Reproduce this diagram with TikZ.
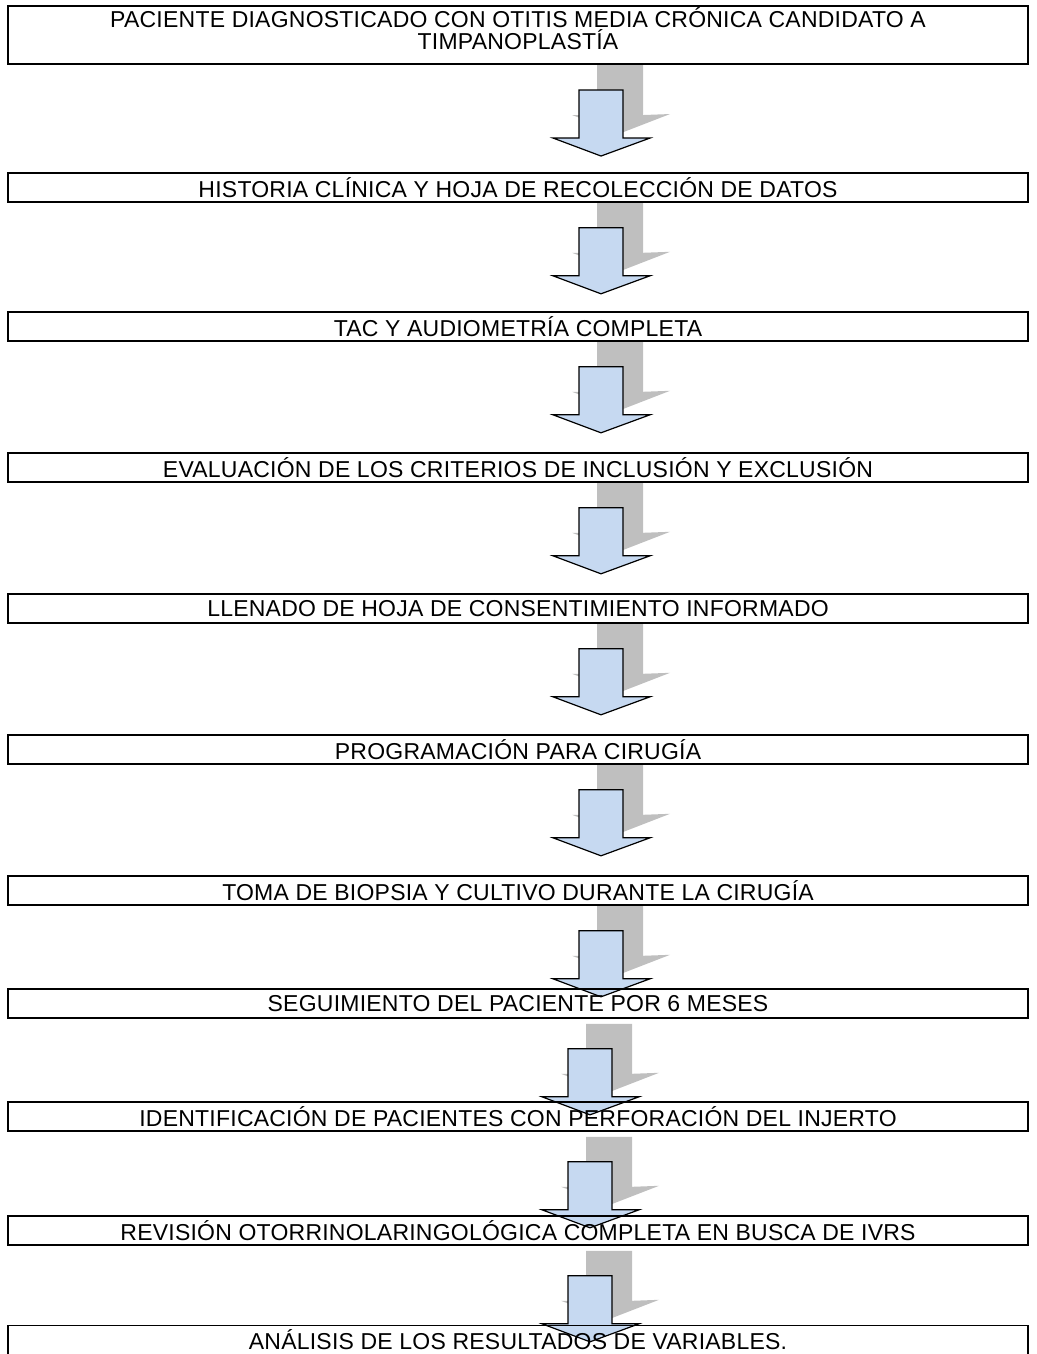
\documentclass[tikz,border=0pt]{standalone}
\usepackage{fontspec}
\setmainfont{Liberation Sans}[LetterSpace=1]
\usetikzlibrary{positioning,calc,backgrounds}
\definecolor{arrowblue}{HTML}{C6D9F1}
\definecolor{shadowgray}{HTML}{BFBFBF}

\begin{document}
\begin{tikzpicture}[x=1pt, y=-1pt,
    every node/.style={font=\fontsize{23}{22}\selectfont},
    stepbox/.style={draw, line width=1.6pt, minimum width=1020pt, minimum height=29pt, inner sep=0pt, align=center},
    blockarrow/.style={draw, fill=arrowblue, line width=1.2pt, line join=miter}]
        \useasboundingbox (0,0) rectangle (1036,1354);
        % steps
        \node[stepbox, anchor=north, text depth=12.5pt, inner ysep=2pt] (b1) at (518,5) {PACIENTE DIAGNOSTICADO CON OTITIS MEDIA CRÓNICA CANDIDATO A\\TIMPANOPLASTÍA};
        \node[stepbox] (b2) at (518,187.5) {HISTORIA CLÍNICA Y HOJA DE RECOLECCIÓN DE DATOS};
        \node[stepbox] (b3) at (518,326.5) {TAC Y AUDIOMETRÍA COMPLETA};
        \node[stepbox] (b4) at (518,467.5) {EVALUACIÓN DE LOS CRITERIOS DE INCLUSIÓN Y EXCLUSIÓN};
        \node[stepbox] (b5) at (518,608.5) {LLENADO DE HOJA DE CONSENTIMIENTO INFORMADO};
        \node[stepbox] (b6) at (518,749.5) {PROGRAMACIÓN PARA CIRUGÍA};
        \node[stepbox] (b7) at (518,890.5) {TOMA DE BIOPSIA Y CULTIVO DURANTE LA CIRUGÍA};
        \node[stepbox] (b8) at (518,1003.5) {SEGUIMIENTO DEL PACIENTE POR 6 MESES};
        \node[stepbox] (b9) at (518,1116.5) {IDENTIFICACIÓN DE PACIENTES CON PERFORACIÓN DEL INJERTO};
        \node[stepbox] (b10) at (518,1230.5) {REVISIÓN OTORRINOLARINGOLÓGICA COMPLETA EN BUSCA DE IVRS};
        \node[stepbox] (b11) at (518,1340) {ANÁLISIS DE LOS RESULTADOS DE VARIABLES.};
        % block arrows with shadow
        \begin{scope}[on background layer]
          \foreach \i/\dx/\dy in {1/83/0,2/83/0,3/83/0,4/83/0,5/83/0,6/83/0,7/83/0,8/72/5,9/72/5,10/72/5}{
            \coordinate (a\i) at ($(b\i.south)+(\dx,\dy)$);
            \begin{scope}[shift={(a\i)}]
              \fill[shadowgray] (-4,0) -- (42,0) -- (42,50) -- (69,49) -- (20,68) -- (-29,50) -- (-4,50) -- cycle;
              \draw[blockarrow] (-22,25) -- (22,25) -- (22,73) -- (49,73) -- (0,91) -- (-48,73) -- (-22,73) -- cycle;
            \end{scope}
          }
        \end{scope}
      \end{tikzpicture}
\end{document}
